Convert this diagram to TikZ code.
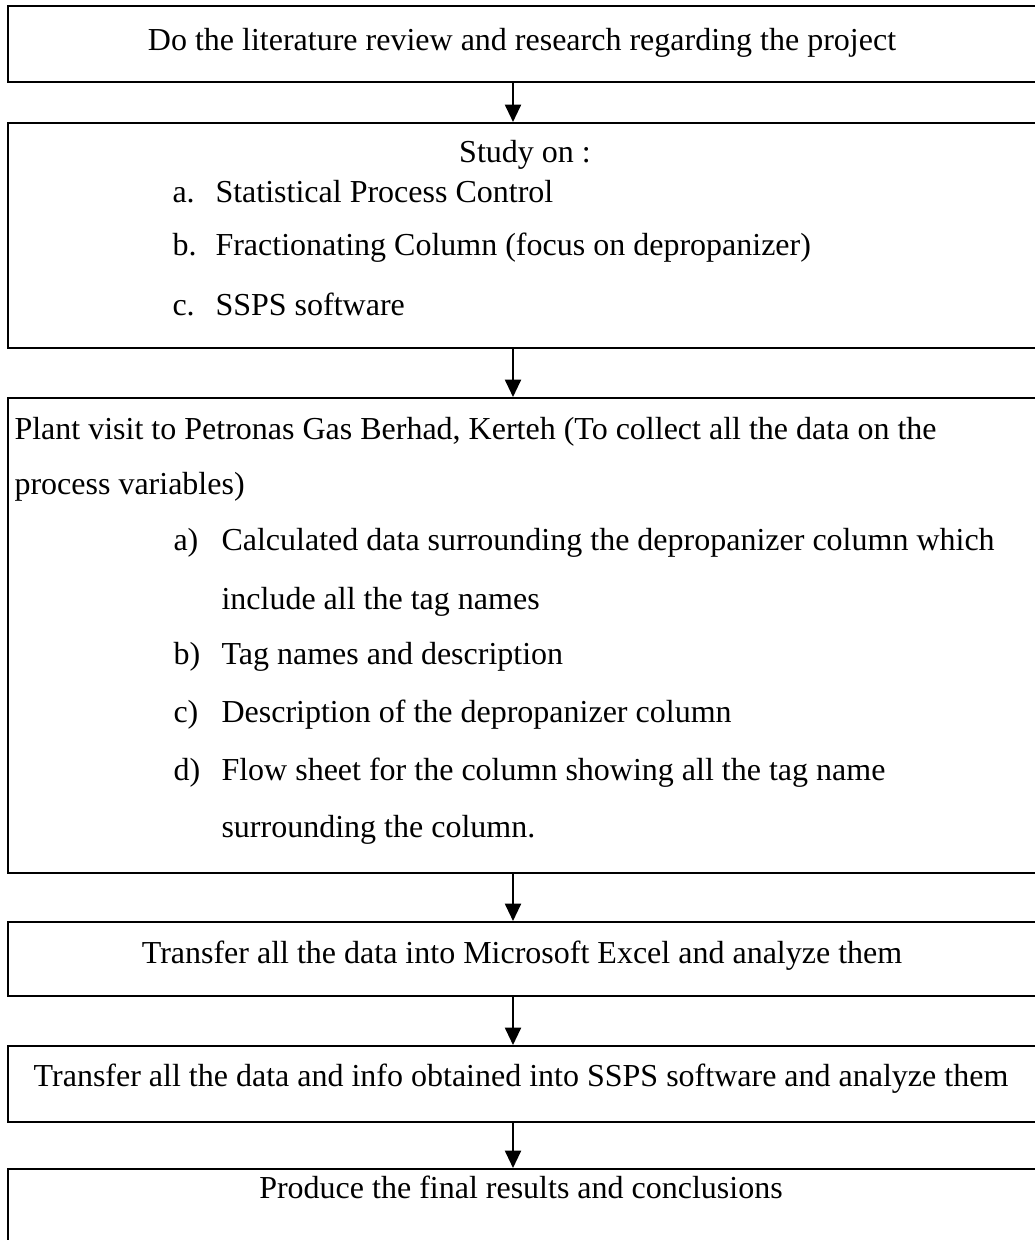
\documentclass[tikz,border=0pt]{standalone}
\usepackage{fontspec}
\setmainfont{Liberation Serif}
\usetikzlibrary{positioning, arrows.meta}

\begin{document}
\begin{tikzpicture}[x=0.375pt, y=-0.375pt,
    every node/.style={font=\fontsize{12pt}{14pt}\selectfont},
    box/.style={draw, line width=0.8pt, anchor=north west, inner sep=0pt, minimum width=391pt},
    txt/.style={inner sep=0pt, text height=8pt, text depth=2.5pt},
    arr/.style={-{Triangle[width=6pt,length=6.5pt]}, line width=0.75pt}]

    % area
    \useasboundingbox (0,0) rectangle (1035,1240);

    % riquadri
    \node[box, minimum height=28.5pt] (b1) at (7,5) {};
    \node[box, minimum height=84.4pt] (b2) at (7,122) {};
    \node[box, minimum height=178.1pt] (b3) at (7,397) {};
    \node[box, minimum height=27.75pt] (b4) at (7,921) {};
    \node[box, minimum height=28.5pt] (b5) at (7,1045) {};
    \node[box, minimum height=48.75pt] (b6) at (7,1168) {};

    % passo 1
    \node[txt] (t1) at (522,43) {Do the literature review and research regarding the project};

    % passo 2
    \node[txt] (t2) at (525,155) {Study on :};
    \node[txt, anchor=west] (l2a) at (172,195) {a.};
    \node[txt, anchor=west] (i2a) at (215,195) {Statistical Process Control};
    \node[txt, anchor=west] (l2b) at (172,248) {b.};
    \node[txt, anchor=west] (i2b) at (215,248) {Fractionating Column (focus on depropanizer)};
    \node[txt, anchor=west] (l2c) at (172,308) {c.};
    \node[txt, anchor=west] (i2c) at (215,308) {SSPS software};

    % passo 3
    \node[txt, anchor=west] (t3a) at (14,432) {Plant visit to Petronas Gas Berhad, Kerteh (To collect all the data on the};
    \node[txt, anchor=west] (t3b) at (14,487) {process variables)};
    \node[txt, anchor=west] (l3a) at (173,543) {a)};
    \node[txt, anchor=west] (i3a) at (221,543) {Calculated data surrounding the depropanizer column which};
    \node[txt, anchor=west] (i3a2) at (221,602) {include all the tag names};
    \node[txt, anchor=west] (l3b) at (173,657) {b)};
    \node[txt, anchor=west] (i3b) at (221,657) {Tag names and description};
    \node[txt, anchor=west] (l3c) at (173,715) {c)};
    \node[txt, anchor=west] (i3c) at (221,715) {Description of the depropanizer column};
    \node[txt, anchor=west] (l3d) at (173,773) {d)};
    \node[txt, anchor=west] (i3d) at (221,773) {Flow sheet for the column showing all the tag name};
    \node[txt, anchor=west] (i3d2) at (221,830) {surrounding the column.};

    % passi 4-6
    \node[txt] (t4) at (522,956) {Transfer all the data into Microsoft Excel and analyze them};
    \node[txt] (t5) at (521,1079) {Transfer all the data and info obtained into SSPS software and analyze them};
    \node[txt] (t6) at (521,1191) {Produce the final results and conclusions};

    % frecce
    \coordinate (ax) at (513,0);
    \draw[arr] (b1.south -| ax) -- (b2.north -| ax);
    \draw[arr] (b2.south -| ax) -- (b3.north -| ax);
    \draw[arr] (b3.south -| ax) -- (b4.north -| ax);
    \draw[arr] (b4.south -| ax) -- (b5.north -| ax);
    \draw[arr] (b5.south -| ax) -- (b6.north -| ax);

\end{tikzpicture}
\end{document}
